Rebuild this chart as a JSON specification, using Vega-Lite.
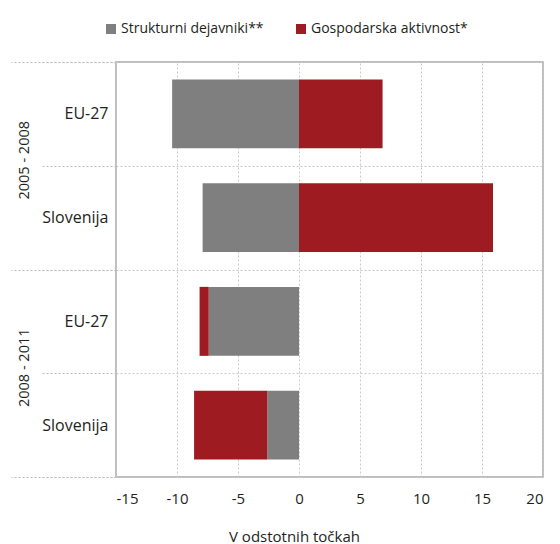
{
  "$schema": "https://vega.github.io/schema/vega-lite/v6.json",
  "width": 427,
  "height": 415,
  "autosize": {"type": "none"},
  "padding": {"left": 116, "top": 62, "right": 17, "bottom": 67},
  "background": "white",
  "data": {
    "values": [
      {"period": "2005 - 2008", "country": "EU-27", "row": "2005 - 2008|EU-27", "factor": "Strukturni dejavniki**", "value": -10.4},
      {"period": "2005 - 2008", "country": "EU-27", "row": "2005 - 2008|EU-27", "factor": "Gospodarska aktivnost*", "value": 6.85},
      {"period": "2005 - 2008", "country": "Slovenija", "row": "2005 - 2008|Slovenija", "factor": "Strukturni dejavniki**", "value": -7.9},
      {"period": "2005 - 2008", "country": "Slovenija", "row": "2005 - 2008|Slovenija", "factor": "Gospodarska aktivnost*", "value": 15.9},
      {"period": "2008 - 2011", "country": "EU-27", "row": "2008 - 2011|EU-27", "factor": "Strukturni dejavniki**", "value": -7.4},
      {"period": "2008 - 2011", "country": "EU-27", "row": "2008 - 2011|EU-27", "factor": "Gospodarska aktivnost*", "value": -0.75},
      {"period": "2008 - 2011", "country": "Slovenija", "row": "2008 - 2011|Slovenija", "factor": "Strukturni dejavniki**", "value": -2.6},
      {"period": "2008 - 2011", "country": "Slovenija", "row": "2008 - 2011|Slovenija", "factor": "Gospodarska aktivnost*", "value": -6.0}
    ]
  },
  "layer": [
    {
      "mark": {"type": "bar", "height": {"band": 0.665}},
      "encoding": {
        "y": {
          "field": "row",
          "type": "nominal",
          "sort": ["2005 - 2008|EU-27", "2005 - 2008|Slovenija", "2008 - 2011|EU-27", "2008 - 2011|Slovenija"],
          "scale": {"type": "band", "paddingInner": 0, "paddingOuter": 0},
          "axis": {
            "orient": "left",
            "title": null,
            "tickBand": "extent",
            "domain": false,
            "ticks": true,
            "tickSize": 76,
            "tickColor": "#bdbdbd",
            "tickDash": [2, 2],
            "tickWidth": 1,
            "labelPadding": -68,
            "labelFontSize": 16,
            "labelExpr": "split(datum.label, '|')[1]",
            "grid": true,
            "gridColor": "#c8c8c8",
            "gridDash": [2, 2]
          }
        },
        "x": {
          "field": "value",
          "type": "quantitative",
          "stack": "zero",
          "scale": {"domain": [-15, 20], "nice": false, "zero": false},
          "axis": {
            "title": "V odstotnih točkah",
            "values": [-15, -10, -5, 0, 5, 10, 15, 20],
            "labelExpr": "'' + datum.value",
            "labelFontSize": 15,
            "ticks": false,
            "domain": false,
            "labelPadding": 14,
            "grid": true,
            "gridColor": "#c8c8c8",
            "gridDash": [2, 2],
            "titleX": 178,
            "titlePadding": 23,
            "titleFontWeight": "normal",
            "titleFontSize": 15
          }
        },
        "color": {
          "field": "factor",
          "type": "nominal",
          "scale": {
            "domain": ["Strukturni dejavniki**", "Gospodarska aktivnost*"],
            "range": ["#7f7f7f", "#9e1b21"]
          },
          "legend": {
            "orient": "none",
            "legendX": -12,
            "legendY": -40,
            "direction": "horizontal",
            "title": null,
            "symbolType": "square",
            "symbolSize": 100,
            "symbolStrokeWidth": 0,
            "labelFontSize": 14,
            "labelColor": "#231f20",
            "columnPadding": 30,
            "labelOffset": 3,
            "padding": 0
          }
        },
        "order": {"field": "factor", "sort": "descending"}
      }
    },
    {
      "mark": {"type": "point", "opacity": 0},
      "encoding": {
        "y": {
          "field": "period",
          "type": "nominal",
          "scale": {"type": "band", "paddingInner": 0, "paddingOuter": 0},
          "axis": {
            "orient": "left",
            "title": null,
            "tickBand": "extent",
            "domain": false,
            "grid": false,
            "ticks": true,
            "tickSize": 105,
            "tickColor": "#bdbdbd",
            "tickDash": [2, 2],
            "tickWidth": 1,
            "labelAngle": -90,
            "labelAlign": "center",
            "labelBaseline": "middle",
            "labelFontSize": 14.5,
            "labelPadding": -13,
            "labelOffset": -6
          }
        }
      }
    }
  ],
  "resolve": {"scale": {"y": "independent"}, "axis": {"y": "independent"}},
  "config": {
    "font": "Open Sans",
    "view": {"stroke": "#a8a8a8", "strokeWidth": 1.5},
    "axis": {"labelFontSize": 14, "labelColor": "#231f20", "titleColor": "#231f20"}
  }
}
